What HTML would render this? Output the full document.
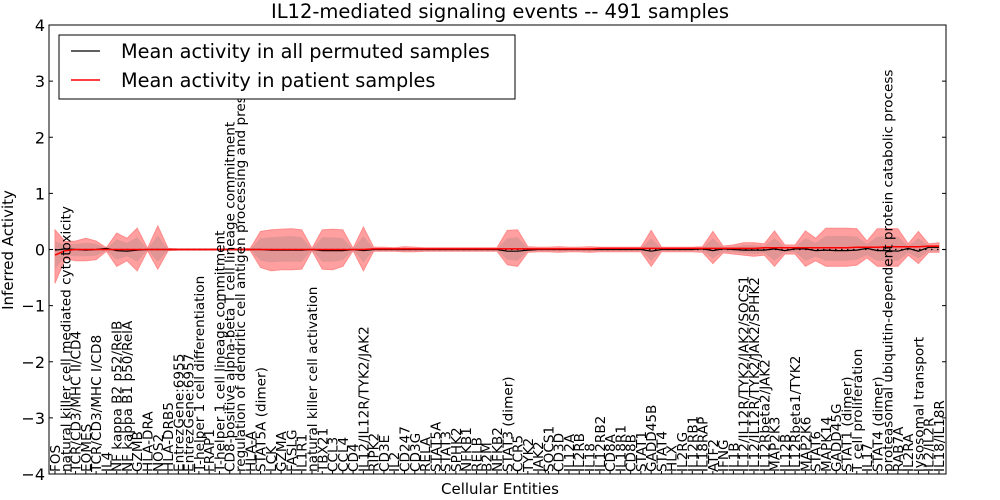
<!DOCTYPE html>
<html><head><meta charset="utf-8"><style>
html,body{margin:0;padding:0;background:#fff;}
svg{display:block;font-family:"DejaVu Sans","Liberation Sans",sans-serif;}
</style></head><body>
<svg id="chart" width="1000" height="500" viewBox="0 0 1000 500"></svg>
<script>
const categories=["FOS","natural killer cell mediated cytotoxicity","TCR/CD3/MHC II/CD4","EOMES","TCR/CD3/MHC I/CD8","IL4","NF kappa B2 p52/RelB","NF kappa B1 p50/RelA","GZMB","HLA-DRA","NOS2","HLA-DRB5","EntrezGene:6955","EntrezGene:6957","T-helper 1 cell differentiation","FRAP1","T-helper 1 cell lineage commitment","CD8-positive alpha-beta T cell lineage commitment","regulation of dendritic cell antigen processing and presentation","HLA-A","STAT5A (dimer)","LCK","GZMA","FASLG","IL1R1","natural killer cell activation","TBX21","CCL3","CCL4","CD4","IL12/IL12R/TYK2/JAK2","RIPK2","CD3E","IL2","CD247","CD3G","RELA","STAT5A","STAT3","SPHK2","NFKB1","RELB","B2M","NFKB2","STAT3 (dimer)","CCR5","TYK2","JAK2","SOCS1","CD3D","IL12A","IL2RB","IL18","IL12RB2","CD8A","IL18R1","CD8B","STAT1","GADD45B","STAT4","HLX","IL2RG","IL12RB1","IL18RAP","ATF2","IFNG","IL1B","IL12/IL12R/TYK2/JAK2/SOCS1","IL12/IL12R/TYK2/JAK2/SPHK2","IL12Rbeta2/JAK2","MAP2K3","IL12B","IL12Rbeta1/TYK2","MAP2K6","STAT6","MAPK14","GADD45G","STAT1 (dimer)","T cell proliferation","IL17","STAT4 (dimer)","proteasomal ubiquitin-dependent protein catabolic process","RAB7A","IL2RA","lysosomal transport","IL2/IL2R","IL18/IL18R"];
const outerHi=[0.35,0.14,0.15,0.2,0.15,0.03,0.29,0.2,0.38,0.02,0.42,0.02,0.01,0.01,0.01,0.01,0.01,0.01,0.01,0.02,0.32,0.35,0.36,0.37,0.35,0.02,0.35,0.36,0.35,0.02,0.4,0.04,0.04,0.03,0.05,0.04,0.03,0.03,0.03,0.03,0.03,0.03,0.03,0.03,0.34,0.35,0.05,0.04,0.04,0.05,0.04,0.04,0.05,0.04,0.04,0.04,0.04,0.04,0.34,0.04,0.04,0.04,0.04,0.05,0.32,0.06,0.08,0.12,0.12,0.1,0.33,0.08,0.08,0.33,0.2,0.38,0.38,0.38,0.37,0.15,0.37,0.37,0.37,0.1,0.32,0.1,0.12];
const outerLo=[-0.6,-0.16,-0.2,-0.2,-0.18,-0.03,-0.3,-0.2,-0.38,-0.02,-0.35,-0.02,-0.01,-0.01,-0.01,-0.01,-0.01,-0.01,-0.01,-0.02,-0.32,-0.38,-0.36,-0.36,-0.35,-0.02,-0.35,-0.36,-0.3,-0.02,-0.38,-0.03,-0.03,-0.03,-0.04,-0.04,-0.03,-0.03,-0.03,-0.03,-0.03,-0.03,-0.03,-0.03,-0.27,-0.3,-0.05,-0.04,-0.04,-0.05,-0.04,-0.04,-0.05,-0.04,-0.04,-0.04,-0.04,-0.04,-0.3,-0.04,-0.04,-0.04,-0.04,-0.05,-0.25,-0.06,-0.08,-0.1,-0.12,-0.1,-0.3,-0.08,-0.08,-0.3,-0.2,-0.3,-0.3,-0.3,-0.28,-0.15,-0.3,-0.3,-0.3,-0.1,-0.25,-0.05,-0.05];
const innerHi=[0.15,0.08,0.1,0.12,0.1,0.02,0.18,0.12,0.22,0.01,0.25,0.01,0.01,0.01,0.01,0.01,0.01,0.01,0.01,0.01,0.2,0.22,0.23,0.24,0.22,0.01,0.22,0.22,0.2,0.01,0.24,0.02,0.02,0.02,0.03,0.02,0.02,0.02,0.02,0.02,0.02,0.02,0.02,0.02,0.2,0.22,0.03,0.02,0.02,0.03,0.02,0.02,0.03,0.02,0.02,0.02,0.02,0.02,0.2,0.02,0.02,0.02,0.02,0.03,0.2,0.04,0.05,0.08,0.08,0.06,0.2,0.05,0.05,0.2,0.12,0.24,0.24,0.24,0.23,0.1,0.23,0.23,0.23,0.06,0.2,0.07,0.08];
const innerLo=[-0.35,-0.1,-0.12,-0.12,-0.11,-0.02,-0.18,-0.12,-0.22,-0.01,-0.22,-0.01,-0.01,-0.01,-0.01,-0.01,-0.01,-0.01,-0.01,-0.01,-0.2,-0.23,-0.22,-0.22,-0.22,-0.01,-0.22,-0.22,-0.19,-0.01,-0.23,-0.02,-0.02,-0.02,-0.03,-0.02,-0.02,-0.02,-0.02,-0.02,-0.02,-0.02,-0.02,-0.02,-0.18,-0.2,-0.03,-0.02,-0.02,-0.03,-0.02,-0.02,-0.03,-0.02,-0.02,-0.02,-0.02,-0.02,-0.2,-0.02,-0.02,-0.02,-0.02,-0.03,-0.16,-0.04,-0.05,-0.07,-0.08,-0.06,-0.2,-0.05,-0.05,-0.2,-0.13,-0.2,-0.2,-0.2,-0.18,-0.1,-0.2,-0.2,-0.2,-0.06,-0.16,-0.03,-0.03];
const meanPerm=[-0.01,0.01,0.0,-0.01,0.0,0.02,-0.02,-0.03,-0.01,0.0,0.0,0.0,0.0,0.0,0.0,0.0,0.0,0.0,0.0,0.0,0.0,-0.01,-0.01,-0.01,-0.01,0.0,-0.02,-0.02,-0.02,0.0,-0.02,0.0,0.0,0.0,0.0,0.0,0.0,0.0,0.0,0.0,0.0,0.0,0.0,0.0,-0.03,-0.03,-0.01,0.0,0.0,0.0,0.0,0.0,0.0,0.0,0.0,0.0,0.0,0.0,-0.03,0.0,0.0,0.0,0.0,0.01,-0.02,0.01,0.0,-0.01,-0.01,-0.01,0.01,-0.02,0.01,0.01,-0.02,-0.01,-0.02,-0.02,-0.01,0.02,-0.02,-0.02,-0.03,0.02,-0.03,0.04,0.04];
const meanPatient=[-0.1,-0.02,0.0,0.0,0.0,0.0,0.0,0.0,0.0,0.0,0.0,0.0,0.0,0.0,0.0,0.0,0.0,0.0,0.0,0.0,0.0,0.0,0.0,0.0,0.0,0.0,0.0,0.0,0.0,0.0,0.0,0.01,0.01,0.01,0.01,0.01,0.01,0.01,0.01,0.01,0.01,0.01,0.01,0.01,0.01,0.01,0.01,0.01,0.01,0.01,0.01,0.01,0.01,0.02,0.02,0.02,0.02,0.02,0.02,0.02,0.02,0.02,0.02,0.02,0.02,0.02,0.02,0.02,0.02,0.03,0.03,0.03,0.03,0.03,0.03,0.03,0.03,0.03,0.04,0.04,0.04,0.05,0.05,0.05,0.05,0.06,0.06];
const yTicks=[-4,-3,-2,-1,0,1,2,3,4];

const NS="http://www.w3.org/2000/svg";
const svg=document.getElementById('chart');
const L=49,R=946,T=25,B=474;
const x0=55,x1=939;
function xs(i){return x0+(x1-x0)*i/(categories.length-1);}
function ys(v){return T+(4-v)*(B-T)/8;}
function mk(tag,attrs,parent){const e=document.createElementNS(NS,tag);for(const k in attrs)e.setAttribute(k,attrs[k]);(parent||svg).appendChild(e);return e;}

function bandPath(hi,lo){
  let d='';
  for(let i=0;i<hi.length;i++)d+=(i?'L':'M')+xs(i).toFixed(1)+','+ys(hi[i]).toFixed(1);
  for(let i=lo.length-1;i>=0;i--)d+='L'+xs(i).toFixed(1)+','+ys(lo[i]).toFixed(1);
  return d+'Z';
}
const outer=mk('path',{d:bandPath(outerHi,outerLo),fill:'#ff9f9f',stroke:'#ff8a8a','stroke-width':1});


const inner=mk('path',{d:bandPath(innerHi,innerLo),fill:'#e29595',stroke:'none'});



const zero=mk('line',{x1:L,x2:R,y1:ys(0),y2:ys(0),stroke:'#000','stroke-width':1.2,'stroke-dasharray':'1.5,4.5'});



function linePath(arr){return arr.map((v,i)=>(i?'L':'M')+xs(i).toFixed(1)+','+ys(v).toFixed(1)).join('');}
const lp=mk('path',{d:linePath(meanPerm),fill:'none',stroke:'#000','stroke-width':1.2});


const lr=mk('path',{d:linePath(meanPatient),fill:'none',stroke:'#ff0000','stroke-width':1.5});



const frame=mk('rect',{x:L,y:T,width:R-L,height:B-T,fill:'none',stroke:'#000','stroke-width':1});



yTicks.forEach(v=>{
  const y=ys(v);
  mk('line',{x1:L,x2:L+4,y1:y,y2:y,stroke:'#000'});
  mk('line',{x1:R-4,x2:R,y1:y,y2:y,stroke:'#000'});
  const t=mk('text',{x:L-4,y:y+6,'text-anchor':'end','font-size':16,fill:'#000'});
  t.textContent=String(v).replace('-','\u2212');
  
  
});

categories.forEach((c,i)=>{
  const x=xs(i);
  mk('line',{x1:x,x2:x,y1:B,y2:B-3,stroke:'#000'});
  const t=mk('text',{x:x+5,y:B-2,transform:'rotate(-90 '+(x+5)+' '+(B-2)+')','font-size':13.6,fill:'#000'});
  t.textContent=c;
  
  
});

const title=mk('text',{x:500,y:18,'text-anchor':'middle','font-size':19.5,fill:'#000'});
title.textContent='IL12-mediated signaling events -- 491 samples';


const xt=mk('text',{x:500,y:494,'text-anchor':'middle','font-size':15,fill:'#000'});
xt.textContent='Cellular Entities';


const yt=mk('text',{x:13,y:250,'text-anchor':'middle','font-size':15,fill:'#000',transform:'rotate(-90 13 250)'});
yt.textContent='Inferred Activity';



const lg=mk('g',{});


mk('rect',{x:59,y:35,width:456,height:64,fill:'#fff',stroke:'#000','stroke-width':1},lg);
const e1=mk('g',{},lg);


mk('line',{x1:71,x2:100,y1:51,y2:51,stroke:'#000','stroke-width':1.2},e1);
const t1=mk('text',{x:121,y:58,'font-size':19.3,fill:'#000'},e1);t1.textContent='Mean activity in all permuted samples';
const e2=mk('g',{},lg);


mk('line',{x1:71,x2:100,y1:80,y2:80,stroke:'#ff0000','stroke-width':1.5},e2);
const t2=mk('text',{x:121,y:87,'font-size':19.3,fill:'#000'},e2);t2.textContent='Mean activity in patient samples';
</script>
</body></html>
